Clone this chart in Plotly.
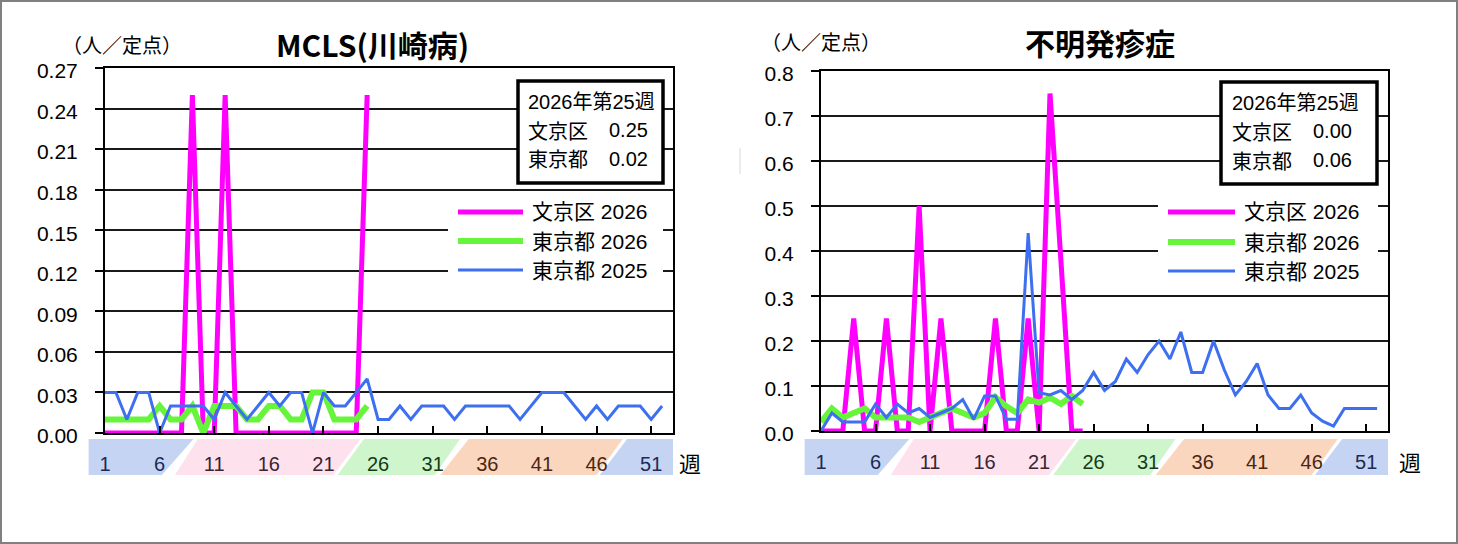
import plotly.graph_objects as go

W, H = 1458, 544


def px(x):
    return x / W


def py(y):
    return 1 - y / H


# ---------------- data ----------------
weeks_2026 = list(range(1, 26))
weeks_2025 = list(range(1, 53))
week_ticks = [1, 6, 11, 16, 21, 26, 31, 36, 41, 46, 51]

mcls_bunkyo_2026 = [0, 0, 0, 0, 0, 0, 0, 0, 0.25, 0, 0, 0.25, 0, 0, 0, 0, 0, 0, 0, 0, 0, 0, 0, 0, 0.25]
mcls_tokyo_2026 = [0.01, 0.01, 0.01, 0.01, 0.01, 0.02, 0.01, 0.01, 0.02, 0.00, 0.02, 0.02, 0.02,
                   0.01, 0.01, 0.02, 0.02, 0.01, 0.01, 0.03, 0.03, 0.01, 0.01, 0.01, 0.02]
mcls_tokyo_2025 = [0.03, 0.03, 0.01, 0.03, 0.03, 0.00, 0.02, 0.02, 0.02, 0.02, 0.01, 0.03, 0.02,
                   0.01, 0.02, 0.03, 0.02, 0.03, 0.03, 0.00, 0.03, 0.02, 0.02, 0.03, 0.04, 0.01,
                   0.01, 0.02, 0.01, 0.02, 0.02, 0.02, 0.01, 0.02, 0.02, 0.02, 0.02, 0.02, 0.01,
                   0.02, 0.03, 0.03, 0.03, 0.02, 0.01, 0.02, 0.01, 0.02, 0.02, 0.02, 0.01, 0.02]

rash_bunkyo_2026 = [0, 0, 0, 0.25, 0, 0, 0.25, 0, 0, 0.5, 0, 0.25, 0, 0, 0, 0, 0.25, 0, 0, 0.25,
                    0, 0.75, 0.38, 0, 0]
rash_tokyo_2026 = [0.02, 0.05, 0.03, 0.04, 0.05, 0.03, 0.03, 0.03, 0.03, 0.02, 0.03, 0.04, 0.05,
                   0.04, 0.03, 0.04, 0.075, 0.055, 0.04, 0.07, 0.063, 0.074, 0.06, 0.078, 0.06]
rash_tokyo_2025 = [0.00, 0.04, 0.02, 0.02, 0.02, 0.06, 0.03, 0.06, 0.04, 0.05, 0.03, 0.04, 0.05,
                   0.07, 0.026, 0.078, 0.078, 0.026, 0.026, 0.44, 0.085, 0.08, 0.09, 0.07, 0.09,
                   0.13, 0.09, 0.11, 0.16, 0.13, 0.17, 0.20, 0.16, 0.22, 0.13, 0.13, 0.20, 0.135,
                   0.08, 0.11, 0.15, 0.08, 0.05, 0.05, 0.08, 0.04, 0.022, 0.011, 0.05, 0.05, 0.05, 0.05]

series_names = ["文京区 2026", "東京都 2026", "東京都 2025"]
titles = ["MCLS(川崎病)", "不明発疹症"]
info_header = "2026年第25週"
info_rows = [("文京区", "0.25", "東京都", "0.02"), ("文京区", "0.00", "東京都", "0.06")]

# ---------------- styles ----------------
C_MAG, C_GRN, C_BLU = "#ff00ff", "#66f53a", "#3d6ff0"
W_MAG, W_GRN, W_BLU = 5, 6, 3
FONT_NUM = "Liberation Sans, Arial, Noto Sans CJK JP, sans-serif"
FONT_JP = "Noto Sans CJK JP, Liberation Sans, sans-serif"

band_colors = ["#c6d4f4", "#fde2ee", "#cff5cc", "#fad6bf", "#c6d4f4"]
tick_colors = {1: "#1c2a55", 6: "#1c2a55", 11: "#3a2430", 16: "#3a2430", 21: "#3a2430",
               26: "#163a16", 31: "#163a16", 36: "#4a2610", 41: "#4a2610", 46: "#4a2610",
               51: "#1c2a55"}
# band geometry in week units: (top-left, top-right, bottom-right, bottom-left)
bands = [(-0.5, 9.1, 6.2, -0.5), (9.5, 24.4, 21.9, 7.4), (24.7, 33.5, 31.2, 22.3),
         (34.3, 48.4, 46.0, 31.7), (48.8, 53.0, 53.0, 46.3)]

charts = [
    dict(n="", left=105, right=673, top=68, bottom=433, ymax=0.27, dtick=0.03, fmt=".2f",
         title_xy=(372, 44), ylab_xy=(122, 44), week_xy=(690, 462),
         info_box=(518, 81, 663, 183), info_text_x=(526, 607), info_y=(102, 130, 159),
         legend_box=(448, 197, 663, 285), leg_line=(458, 523), leg_text_x=530,
         leg_y=(212, 241, 270), data=(mcls_bunkyo_2026, mcls_tokyo_2026, mcls_tokyo_2025)),
    dict(n="2", left=821, right=1388, top=71, bottom=431, ymax=0.8, dtick=0.1, fmt=".1f",
         title_xy=(1100, 42), ylab_xy=(821, 42), week_xy=(1410, 461),
         info_box=(1221, 82, 1377, 184), info_text_x=(1230, 1311), info_y=(103, 131, 160),
         legend_box=(1158, 196, 1378, 285), leg_line=(1168, 1235), leg_text_x=1242,
         leg_y=(212, 242, 271), data=(rash_bunkyo_2026, rash_tokyo_2026, rash_tokyo_2025)),
]

fig = go.Figure()
shapes = []
annotations = []
layout_axes = {}

for ci, ch in enumerate(charts):
    xa, ya = "x" + ch["n"], "y" + ch["n"]
    bunkyo, tokyo26, tokyo25 = ch["data"]
    fig.add_trace(go.Scatter(x=weeks_2026, y=bunkyo, xaxis=xa, yaxis=ya, mode="lines",
                             line=dict(color=C_MAG, width=W_MAG), name=series_names[0],
                             showlegend=False))
    fig.add_trace(go.Scatter(x=weeks_2026, y=tokyo26, xaxis=xa, yaxis=ya, mode="lines",
                             line=dict(color=C_GRN, width=W_GRN), name=series_names[1],
                             showlegend=False))
    fig.add_trace(go.Scatter(x=weeks_2025, y=tokyo25, xaxis=xa, yaxis=ya, mode="lines",
                             line=dict(color=C_BLU, width=W_BLU), name=series_names[2],
                             showlegend=False))

    ticktext = ['<span style="color:%s">%d</span>' % (tick_colors[w], w) for w in week_ticks]
    layout_axes["xaxis" + ch["n"]] = dict(
        domain=[px(ch["left"]), px(ch["right"])], anchor=ya, range=[1, 53], automargin=False,
        showgrid=False, zeroline=False, showline=True, linecolor="#000000", linewidth=2,
        mirror=True, ticks="inside", ticklen=7, tickwidth=1.5, tickcolor="#000000",
        tickvals=week_ticks, ticktext=ticktext, tickfont=dict(family=FONT_NUM, size=20),
        ticklabelstandoff=12, fixedrange=True)
    layout_axes["yaxis" + ch["n"]] = dict(
        domain=[py(ch["bottom"]), py(ch["top"])], anchor=xa, range=[0, ch["ymax"]],
        automargin=False,
        dtick=ch["dtick"], tick0=0, tickformat=ch["fmt"], showgrid=True,
        gridcolor="#1a1a1a", gridwidth=1.5, zeroline=False, showline=True,
        linecolor="#000000", linewidth=2, mirror=True, ticks="outside", ticklen=8,
        tickwidth=1.5, tickcolor="#000000", tickfont=dict(family=FONT_NUM, size=21, color="#000000"),
        ticklabelstandoff=13, ticklabelshift=3, fixedrange=True)

    # coloured week bands under the x axis
    L, R = ch["left"], ch["right"]
    pw = (R - L) / 52.0

    def wx(w, L=L, pw=pw):
        return L + (w - 1) * pw

    btop, bbot = 439, 475
    for (tl, tr, br, bl), col in zip(bands, band_colors):
        path = "M %f %f L %f %f L %f %f L %f %f Z" % (
            px(wx(tl)), py(btop), px(wx(tr)), py(btop), px(wx(br)), py(bbot), px(wx(bl)), py(bbot))
        shapes.append(dict(type="path", xref="paper", yref="paper", path=path,
                           fillcolor=col, line=dict(width=0), layer="below"))

    # legend box
    lx0, ly0, lx1, ly1 = ch["legend_box"]
    shapes.append(dict(type="rect", xref="paper", yref="paper", x0=px(lx0), x1=px(lx1),
                       y0=py(ly1), y1=py(ly0), fillcolor="#ffffff", line=dict(width=0),
                       layer="above"))
    for name, col, lw, yy in zip(series_names, (C_MAG, C_GRN, C_BLU), (W_MAG, W_GRN, W_BLU),
                                 ch["leg_y"]):
        shapes.append(dict(type="line", xref="paper", yref="paper", x0=px(ch["leg_line"][0]),
                           x1=px(ch["leg_line"][1]), y0=py(yy), y1=py(yy),
                           line=dict(color=col, width=lw), layer="above"))
        annotations.append(dict(text=name, x=px(ch["leg_text_x"]), y=py(yy), xref="paper",
                                yref="paper", xanchor="left", yanchor="middle", showarrow=False,
                                font=dict(family=FONT_NUM, size=21, color="#000000")))

    # info box
    bx0, by0, bx1, by1 = ch["info_box"]
    shapes.append(dict(type="rect", xref="paper", yref="paper", x0=px(bx0), x1=px(bx1),
                       y0=py(by1), y1=py(by0), fillcolor="#ffffff",
                       line=dict(color="#000000", width=3.5), layer="above"))
    tx, vx = ch["info_text_x"]
    iy = ch["info_y"]
    r = info_rows[ci]
    annotations.append(dict(text=info_header, x=px(tx), y=py(iy[0]), xref="paper", yref="paper",
                            xanchor="left", yanchor="middle", showarrow=False,
                            font=dict(family=FONT_NUM, size=20, color="#000000")))
    for k, yy in enumerate(iy[1:]):
        annotations.append(dict(text=r[2 * k], x=px(tx), y=py(yy), xref="paper", yref="paper",
                                xanchor="left", yanchor="middle", showarrow=False,
                                font=dict(family=FONT_JP, size=20, color="#000000")))
        annotations.append(dict(text=r[2 * k + 1], x=px(vx), y=py(yy), xref="paper",
                                yref="paper", xanchor="left", yanchor="middle", showarrow=False,
                                font=dict(family=FONT_NUM, size=20, color="#000000")))

    # titles / axis labels
    annotations.append(dict(text="<b>%s</b>" % titles[ci], x=px(ch["title_xy"][0]),
                            y=py(ch["title_xy"][1]), xref="paper", yref="paper",
                            xanchor="center", yanchor="middle", showarrow=False,
                            font=dict(family=FONT_JP, size=30, color="#000000")))
    annotations.append(dict(text="（人／定点）", x=px(ch["ylab_xy"][0]), y=py(ch["ylab_xy"][1]),
                            xref="paper", yref="paper", xanchor="center", yanchor="middle",
                            showarrow=False, font=dict(family=FONT_JP, size=20, color="#000000")))
    annotations.append(dict(text="週", x=px(ch["week_xy"][0]), y=py(ch["week_xy"][1]),
                            xref="paper", yref="paper", xanchor="center", yanchor="middle",
                            showarrow=False, font=dict(family=FONT_JP, size=22, color="#000000")))

# outer frame and small mark
shapes.append(dict(type="rect", xref="paper", yref="paper", x0=px(1), x1=px(W - 1), y0=py(H - 1),
                   y1=py(1), line=dict(color="#808080", width=2), fillcolor="rgba(0,0,0,0)",
                   layer="above"))
shapes.append(dict(type="line", xref="paper", yref="paper", x0=px(740), x1=px(740), y0=py(148),
                   y1=py(174), line=dict(color="#d8d8d8", width=1), layer="above"))

fig.update_layout(
    template="none",
    width=W, height=H, autosize=False, margin=dict(l=0, r=0, t=0, b=0, pad=0, autoexpand=False),
    paper_bgcolor="#ffffff", plot_bgcolor="#ffffff", showlegend=False,
    shapes=shapes, annotations=annotations, **layout_axes)

fig.write_html("out.html", config={"displayModeBar": False})
